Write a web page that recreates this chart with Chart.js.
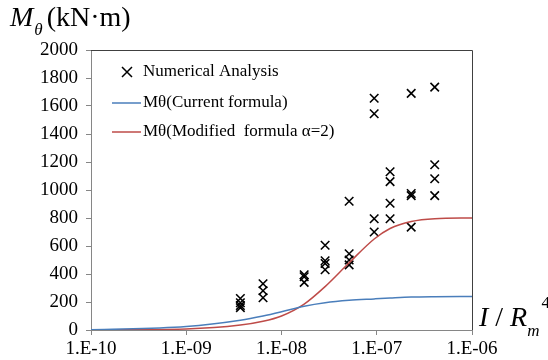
<!DOCTYPE html>
<html>
<head>
<meta charset="utf-8">
<script src="https://cdn.jsdelivr.net/npm/chart.js@4.4.1/dist/chart.umd.min.js"></script>
<style>
  html, body { margin: 0; padding: 0; background: #fff; }
  #wrap { position: relative; width: 548px; height: 360px; }
  canvas { position: absolute; left: 0; top: 0; }
  .lbl { position: absolute; font-family: "Liberation Serif", "Times New Roman", serif; color: #000; white-space: nowrap; line-height: 1; }
  .lbl i { font-style: italic; }
</style>
</head>
<body>
<div id="wrap">
  <canvas id="chart" width="548" height="360"></canvas>
  <div class="lbl" id="yTitle" style="left:10px; top:3px; font-size:28px;"><i>M</i><sub style="font-size:17px; font-style:italic; position:relative; top:2px; margin-left:1px;">θ</sub><span style="margin-left:4px;">(kN·m)</span></div>
  <div class="lbl" id="xTitle" style="left:479px; top:302px; font-size:28px;"><i>I</i> / <i>R</i><sub style="font-size:17px; font-style:italic; position:relative; top:3px;">m</sub><sup style="font-size:17px; position:relative; top:-8px; margin-left:2px;">4</sup></div>
</div>
<script>
// I / Rm^4 positions of the numerical results (one per column)
const columnX = [3.7e-9, 6.4e-9, 1.73e-8, 2.87e-8, 5.13e-8, 9.4e-8, 1.38e-7, 2.3e-7, 4.06e-7];
// M theta values (kN·m) in each column
const columnValues = [
  [225, 195, 175, 160],
  [330, 280, 230],
  [395, 380, 340],
  [605, 495, 475, 430],
  [920, 545, 500, 465],
  [1655, 1545, 795, 700],
  [1130, 1060, 905, 795],
  [1690, 975, 960, 735],
  [1735, 1180, 1080, 960]
];

// formula curves
const lineX = [1e-10, 1e-9, 3.7e-9, 6.4e-9, 1e-8, 1.73e-8, 2.87e-8, 5.13e-8, 9.4e-8, 1.38e-7, 2.3e-7, 4.06e-7, 1e-6];
const currentY = [2, 25, 70, 100, 130, 170, 195, 212, 222, 228, 235, 238, 240];
const modifiedY = [0, 7, 35, 62, 100, 185, 310, 480, 650, 725, 775, 795, 800];

const xTicks = [1e-10, 1e-9, 1e-8, 1e-7, 1e-6];
const yTicks = [0, 200, 400, 600, 800, 1000, 1200, 1400, 1600, 1800, 2000];

const legendLabels = ["Numerical Analysis", "Mθ(Current formula)", "Mθ(Modified  formula α=2)"];

const BLUE = "#4a7ebb";
const RED = "#be4b48";
const SERIF = '"Liberation Serif", "Times New Roman", serif';

Chart.defaults.font.family = SERIF;

const scatterPoints = columnX.flatMap((x, i) => columnValues[i].map((y) => ({ x: x, y: y })));

// frame (top / right) and legend drawn inside the plot area
const framePlugin = {
  id: "frame",
  afterDraw(chart) {
    const { ctx, chartArea: a } = chart;
    ctx.save();
    ctx.strokeStyle = "#404040";
    ctx.lineWidth = 1;
    ctx.beginPath();
    ctx.moveTo(a.left, a.top + 0.5);
    ctx.lineTo(a.right + 0.5, a.top + 0.5);
    ctx.lineTo(a.right + 0.5, a.bottom);
    ctx.stroke();

    // legend
    const rows = [72, 103, 132];
    const x0 = 112, x1 = 141;
    ctx.font = "17px " + SERIF;
    ctx.fillStyle = "#000";
    ctx.textBaseline = "middle";
    // cross marker
    ctx.strokeStyle = "#000";
    ctx.lineWidth = 1.5;
    const cx = 127, cy = rows[0], r = 5;
    ctx.beginPath();
    ctx.moveTo(cx - r, cy - r); ctx.lineTo(cx + r, cy + r);
    ctx.moveTo(cx - r, cy + r); ctx.lineTo(cx + r, cy - r);
    ctx.stroke();
    ctx.fillText(legendLabels[0], 143, rows[0]);
    [BLUE, RED].forEach((c, i) => {
      ctx.strokeStyle = c;
      ctx.lineWidth = 1.5;
      ctx.beginPath();
      ctx.moveTo(x0, rows[i + 1]);
      ctx.lineTo(x1, rows[i + 1]);
      ctx.stroke();
      ctx.fillText(legendLabels[i + 1], 143, rows[i + 1]);
    });
    ctx.restore();
  }
};

new Chart(document.getElementById("chart"), {
  type: "scatter",
  data: {
    datasets: [
      {
        label: legendLabels[1],
        type: "line",
        data: lineX.map((x, i) => ({ x: x, y: currentY[i] })),
        borderColor: BLUE,
        borderWidth: 1.5,
        pointRadius: 0,
        fill: false,
        cubicInterpolationMode: "monotone"
      },
      {
        label: legendLabels[2],
        type: "line",
        data: lineX.map((x, i) => ({ x: x, y: modifiedY[i] })),
        borderColor: RED,
        borderWidth: 1.5,
        pointRadius: 0,
        fill: false,
        cubicInterpolationMode: "monotone"
      },
      {
        label: legendLabels[0],
        data: scatterPoints,
        pointStyle: "crossRot",
        pointRadius: 6,
        pointBorderWidth: 1.6,
        borderColor: "#000",
        backgroundColor: "#000"
      }
    ]
  },
  options: {
    responsive: false,
    animation: false,
    layout: { padding: { left: 0, right: 76, top: 50, bottom: 0 } },
    plugins: { legend: { display: false }, tooltip: { enabled: false } },
    scales: {
      x: {
        type: "logarithmic",
        min: 1e-10,
        max: 1e-6,
        afterBuildTicks: (axis) => { axis.ticks = xTicks.map((v) => ({ value: v })); },
        afterFit: (axis) => { axis.height = 30; },
        ticks: {
          color: "#000",
          font: { family: SERIF, size: 19 },
          padding: 3,
          maxRotation: 0,
          autoSkip: false,
          callback: (v) => "1.E-" + String(-Math.round(Math.log10(v))).padStart(2, "0")
        },
        grid: { display: true, drawOnChartArea: false, drawTicks: true, tickLength: 5, color: "#868686" },
        border: { color: "#868686", width: 1 }
      },
      y: {
        min: 0,
        max: 2000,
        afterBuildTicks: (axis) => { axis.ticks = yTicks.map((v) => ({ value: v })); },
        afterFit: (axis) => { axis.width = 91; },
        ticks: {
          color: "#000",
          font: { family: SERIF, size: 19 },
          padding: 8,
          autoSkip: false,
          callback: (v) => String(v)
        },
        grid: { display: true, drawOnChartArea: false, drawTicks: true, tickLength: 5, color: "#868686" },
        border: { color: "#868686", width: 1 }
      }
    }
  },
  plugins: [framePlugin]
});
</script>
</body>
</html>
